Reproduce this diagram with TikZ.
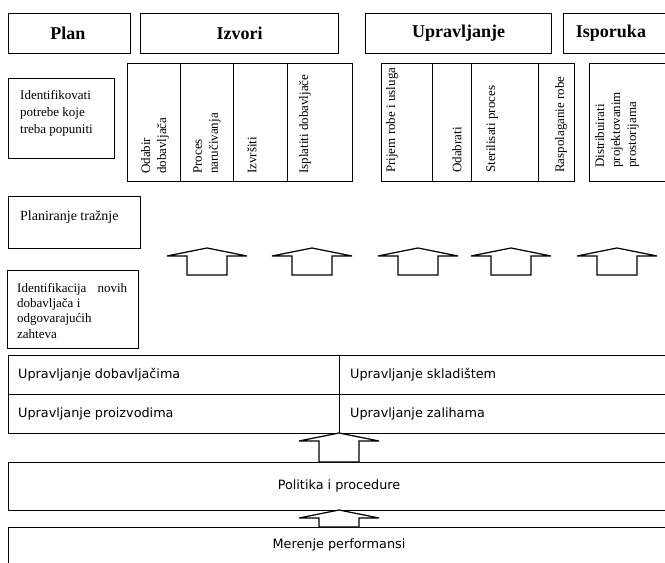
\documentclass[tikz,border=0pt]{standalone}
\usepackage{fontspec}
\setmainfont{Liberation Serif}
\newfontfamily\sansf{DejaVu Sans}
\newcommand\blkarrow[3]{% #1 centre x, #2 tip y, #3 bottom y
  \draw[arr] ({#1-20},{#3}) -- ({#1-20},{#2+8}) -- ({#1-40},{#2+8}) -- ({#1},{#2})
    -- ({#1+40},{#2+8}) -- ({#1+20},{#2+8}) -- ({#1+20},{#3}) -- cycle;}
\begin{document}
\begin{tikzpicture}[x=1pt,y=-1pt,
  box/.style={draw, line width=1.2pt, inner sep=0pt, anchor=north west},
  head/.style={font=\fontsize{18}{20}\selectfont\bfseries, inner sep=0pt},
  serif/.style={font=\fontsize{13}{16.5}\selectfont, inner sep=0pt},
  sans/.style={font=\sansf\fontsize{12.8}{15}\selectfont, inner sep=0pt},
  vtext/.style={font=\fontsize{13}{16}\selectfont, inner sep=0pt, rotate=90, anchor=west, align=left},
  arr/.style={draw, line width=1.2pt, fill=white, line join=miter}]
\useasboundingbox (0,0) rectangle (665,563);
\clip (0,0) rectangle (665,563);

% header row
\node[box, minimum width=122pt, minimum height=40pt] (plan) at (8,13) {};
\node[head] (plant) at (68,33) {Plan};
\node[box, minimum width=198pt, minimum height=40pt] (izv) at (140,13) {};
\node[head] (izvt) at (izv.center) {Izvori};
\node[box, minimum width=186pt, minimum height=40pt] (upr) at (365,13) {};
\node[head] (uprt) at (upr.center) {Upravljanje};
\node[box, minimum width=110pt, minimum height=40pt] (isp) at (563,13) {};
\node[head] (ispt) at (611,33) {Isporuka};

% plan column
\node[box, minimum width=106pt, minimum height=80pt] (ident) at (8,78) {};
\node[serif, anchor=north west, align=left, font=\fontsize{13}{16.7}\selectfont] (identt) at (20,90.5)
  {Identifikovati\\potrebe koje\\treba popuniti};
\node[box, minimum width=132pt, minimum height=52pt] (plantr) at (8,196) {};
\node[serif, anchor=base west, font=\fontsize{14}{16}\selectfont] (plantrt) at (20,220) {Planiranje tražnje};
\node[box, minimum width=131pt, minimum height=78pt] (idn) at (7,270) {};
\node[serif, anchor=north west, align=left, font=\fontsize{13}{15.3}\selectfont] (idnt) at (17,283)
  {\makebox[110pt][s]{Identifikacija novih}\\dobavljača i\\odgovarajućih\\zahteva};

% Izvori columns
\node[box, minimum width=53pt, minimum height=118pt] (i1) at (127,63) {};
\node[box, minimum width=53pt, minimum height=118pt] (i2) at (180,63) {};
\node[box, minimum width=54pt, minimum height=118pt] (i3) at (233,63) {};
\node[box, minimum width=65pt, minimum height=118pt] (i4) at (287,63) {};
\node[vtext] (i1t) at (155,174) {Odabir\\dobavljača};
\node[vtext] (i2t) at (207,174) {Proces\\naručivanja};
\node[vtext] (i3t) at (252,174) {Izvršiti};
\node[vtext] (i4t) at (305,174) {Isplatiti dobavljače};

% Upravljanje columns
\node[box, minimum width=51pt, minimum height=118pt] (u1) at (381,63) {};
\node[box, minimum width=39pt, minimum height=118pt] (u2) at (432,63) {};
\node[box, minimum width=67pt, minimum height=118pt] (u3) at (471,63) {};
\node[box, minimum width=36pt, minimum height=118pt] (u4) at (538,63) {};
\node[vtext] (u1t) at (392,173) {Prijem robe i usluga};
\node[vtext] (u2t) at (457,173) {Odabrati};
\node[vtext] (u3t) at (492,173) {Sterilisati proces};
\node[vtext] (u4t) at (561,173) {Raspolaganie robe};

% Isporuka column
\node[box, minimum width=90pt, minimum height=118pt] (d1) at (589,63) {};
\node[vtext] (d1t) at (617,168) {Distribuirati\\projektovanim\\prostorijama};

% row of arrows
\blkarrow{207}{248}{275}
\blkarrow{312}{248}{275}
\blkarrow{418}{248}{275}
\blkarrow{511}{248}{275}
\blkarrow{617}{248}{275}

% management grid
\node[box, minimum width=331pt, minimum height=39pt] (c11) at (8,355) {};
\node[box, minimum width=341pt, minimum height=39pt] (c12) at (339,355) {};
\node[box, minimum width=331pt, minimum height=39pt] (c21) at (8,394) {};
\node[box, minimum width=341pt, minimum height=39pt] (c22) at (339,394) {};
\node[sans, anchor=west] (c11t) at (18,374.5) {Upravljanje dobavljačima};
\node[sans, anchor=west] (c12t) at (350,374.5) {Upravljanje skladištem};
\node[sans, anchor=west] (c21t) at (18,413.5) {Upravljanje proizvodima};
\node[sans, anchor=west] (c22t) at (350,413.5) {Upravljanje zalihama};

% policies and measurement
\node[box, minimum width=662pt, minimum height=48pt] (pol) at (8,462) {};
\node[sans] (polt) at (339,486) {Politika i procedure};
\node[box, minimum width=662pt, minimum height=50pt] (mer) at (8,527) {};
\node[sans] (mert) at (339,545) {Merenje performansi};

\blkarrow{339}{433}{462}
\blkarrow{339}{510}{527}
\end{tikzpicture}
\end{document}
